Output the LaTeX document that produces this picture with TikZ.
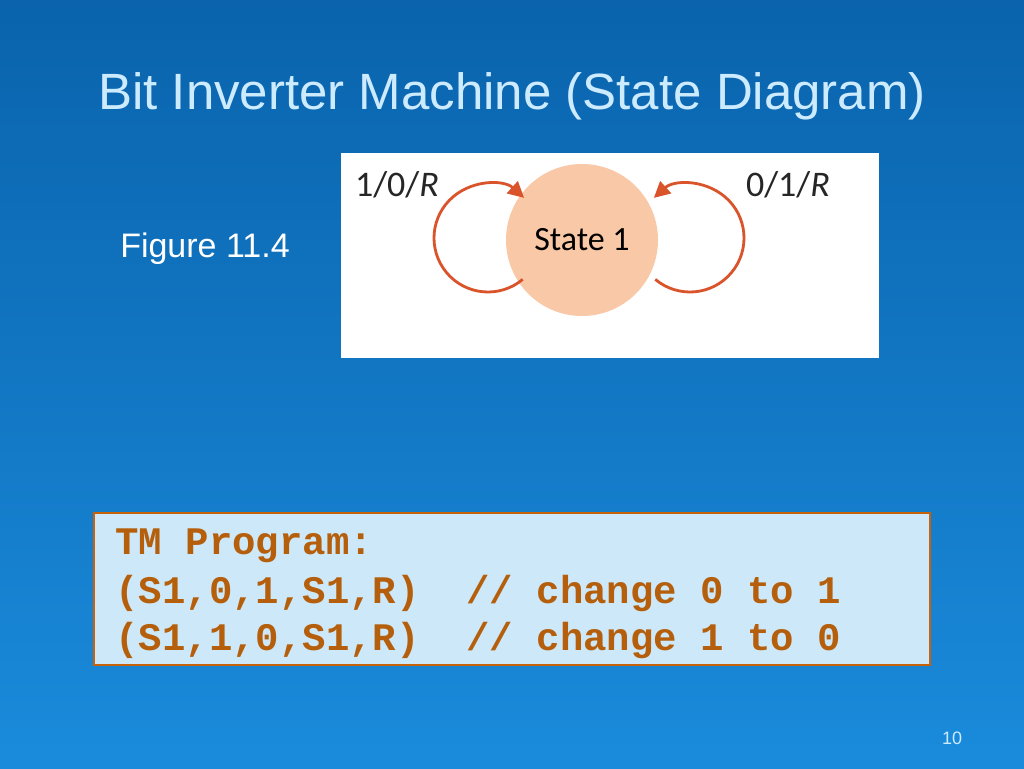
\documentclass[tikz,border=0pt]{standalone}
\usepackage{fontspec}
\setmainfont{Liberation Sans}
\newfontfamily\monof{Liberation Mono}
\newfontfamily\figf{Carlito}
\usetikzlibrary{arrows.meta}
\definecolor{bgtop}{HTML}{0A63AC}
\definecolor{bgbot}{HTML}{1A8BDB}
\definecolor{ttl}{HTML}{CDEBFF}
\definecolor{peach}{HTML}{F9C8A6}
\definecolor{loopc}{HTML}{D9532B}
\definecolor{codebg}{HTML}{CDE9F9}
\definecolor{codefg}{HTML}{B55F0C}
\definecolor{codebd}{HTML}{C8620A}
\tikzset{
  loopline/.style={draw=loopc, line width=2.8pt, -{Triangle[length=16pt,width=16pt]}},
  lbl/.style={font=\figf\fontsize{36}{40}\selectfont, text=black!85},
  code/.style={font=\monof\bfseries\fontsize{39}{47}\selectfont, text=codefg, anchor=west}
}
\begin{document}
\begin{tikzpicture}[x=1pt,y=-1pt]
\useasboundingbox (0,0) rectangle (1024,768);
\shade[top color=bgtop, bottom color=bgbot] (0,0) rectangle (1024,768);
\node[font=\fontsize{51}{58}\selectfont, text=ttl] (title) at (512,96) {Bit Inverter Machine (State Diagram)};
\node[fill=white, minimum width=538pt, minimum height=205pt, inner sep=0] (fig) at (610,255.5) {};
\node[circle, fill=peach, minimum size=152pt, inner sep=0, font=\figf\fontsize{34}{38}\selectfont] (s) at (582,240) {State 1};
\draw[loopline] ([shift={(50:54)}]488,238) arc[start angle=50, end angle=312, radius=54];
\draw[loopline] ([shift={(130:54)}]690,238) arc[start angle=130, end angle=-132, radius=54];
\node[lbl] (l1) at (397,185) {1/0/\textit{R}};
\node[lbl] (l2) at (788,185) {0/1/\textit{R}};
\node[text=white, font=\fontsize{34}{38}\selectfont] (figlbl) at (205,249) {Figure 11.4};
\node[draw=codebd, line width=2.5pt, fill=codebg, minimum width=836pt, minimum height=152pt, inner sep=0] (box) at (512,589) {};
\node[code] (c1) at (112,546) {TM Program:};
\node[code] (c2) at (112,593) {(S1,0,1,S1,R)\ \ //\ change\ 0\ to\ 1};
\node[code] (c3) at (112,640) {(S1,1,0,S1,R)\ \ //\ change\ 1\ to\ 0};
\node[text=ttl, font=\fontsize{18}{20}\selectfont] (pg) at (952,738) {10};
\end{tikzpicture}
\end{document}
